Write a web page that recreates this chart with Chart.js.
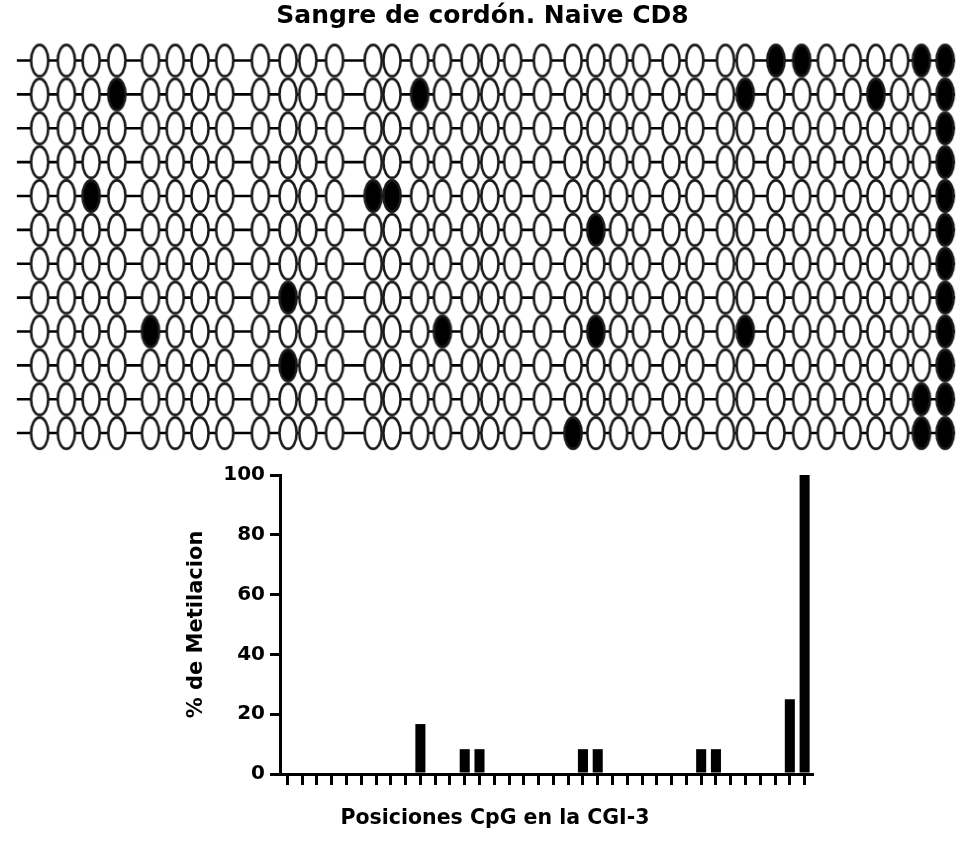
<!DOCTYPE html>
<html>
<head>
<meta charset="utf-8">
<title>Metilacion CGI-3</title>
<script src="https://cdn.jsdelivr.net/npm/chart.js@4.4.0/dist/chart.umd.min.js"></script>
<style>
  body { margin: 0; background: #fff; }
  #wrap { position: relative; width: 965px; height: 858px; }
  #top { position: absolute; left: 0; top: 0; width: 965px; height: 455px; }
  #bottom { position: absolute; left: 0; top: 455px; width: 965px; height: 403px; }
</style>
</head>
<body>
<div id="wrap">
  <div id="top"><canvas id="lollipop"></canvas></div>
  <div id="bottom"><canvas id="barChart"></canvas></div>
</div>
<script>
// relative position of each CpG along the fragment (36 sites)
var cpgPos = [0, 27, 52, 78, 112, 137, 162, 187, 223, 251, 271, 298, 337, 356, 384, 407, 435, 455,
  478, 508, 539, 562, 585, 608, 638, 662, 693, 713, 744, 770, 795, 821, 845, 869, 891, 915];

// methylated CpG numbers (1-based) for each sequenced clone
var metilados = [
  [29, 30, 35, 36],
  [4, 15, 28, 33, 36],
  [36],
  [36],
  [3, 13, 14, 36],
  [22, 36],
  [36],
  [10, 36],
  [5, 16, 22, 28, 36],
  [10, 36],
  [35, 36],
  [21, 35, 36]
];

// % methylation per CpG
var pctMetilacion = [0, 0, 0, 0, 0, 0, 0, 0, 0, 16.7, 0, 0, 8.3, 8.3, 0, 0, 0, 0,
  0, 0, 8.3, 8.3, 0, 0, 0, 0, 0, 0, 8.3, 8.3, 0, 0, 0, 0, 25, 100];

var fuente = "'DejaVu Sans', sans-serif";

// ellipse images used as point style
function makeOval(filled) {
  var c = document.createElement("canvas");
  c.width = 24;
  c.height = 38;
  var g = c.getContext("2d");
  g.beginPath();
  g.ellipse(12, 19, 8.6, 15.6, 0, 0, Math.PI * 2);
  g.fillStyle = filled ? "#000" : "#fff";
  g.fill();
  g.lineWidth = 2.6;
  g.strokeStyle = "#1a1a1a";
  g.stroke();
  return c;
}

function createLollipop() {
  var ctx = document.getElementById("lollipop").getContext("2d");
  var abiertos = [];
  var llenos = [];
  var datasets = [];

  metilados.forEach(function (fila, i) {
    var row = i + 1;
    datasets.push({
      type: "line",
      data: [{ x: -23, y: row }, { x: 925, y: row }],
      borderColor: "#000",
      borderWidth: 2.6,
      pointRadius: 0,
      order: 2
    });
    cpgPos.forEach(function (pos, j) {
      if (fila.indexOf(j + 1) >= 0) {
        llenos.push({ x: pos, y: row });
      } else {
        abiertos.push({ x: pos, y: row });
      }
    });
  });

  datasets.push({
    data: abiertos,
    pointStyle: makeOval(false),
    order: 1,
    clip: false
  });
  datasets.push({
    data: llenos,
    pointStyle: makeOval(true),
    order: 0,
    clip: false
  });

  new Chart(ctx, {
    type: "scatter",
    data: { datasets: datasets },
    options: {
      responsive: true,
      maintainAspectRatio: false,
      animation: false,
      devicePixelRatio: 1,
      events: [],
      layout: { padding: 0 },
      plugins: {
        legend: { display: false },
        tooltip: { enabled: false },
        title: {
          display: true,
          text: "Sangre de cordón. Naive CD8",
          color: "#000",
          font: { family: fuente, size: 25, weight: "bold" },
          padding: { top: 1, bottom: 12.6 }
        }
      },
      scales: {
        x: { type: "linear", min: -35, max: 930, display: false },
        y: { type: "linear", min: 0.5, max: 12.5, reverse: true, display: false }
      }
    }
  });
}

function createBarChart() {
  var ctx = document.getElementById("barChart").getContext("2d");
  var etiquetas = cpgPos.map(function (p, i) { return String(i + 1); });

  new Chart(ctx, {
    type: "bar",
    data: {
      labels: etiquetas,
      datasets: [
        {
          data: pctMetilacion,
          backgroundColor: "#000",
          barPercentage: 0.68,
          categoryPercentage: 1
        }
      ]
    },
    options: {
      responsive: true,
      maintainAspectRatio: false,
      animation: false,
      devicePixelRatio: 1,
      events: [],
      layout: { padding: { top: 20, right: 153, left: 178, bottom: 0 } },
      plugins: {
        legend: { display: false },
        tooltip: { enabled: false },
        // x axis caption, centred on the whole figure
        title: {
          display: true,
          position: "bottom",
          text: "Posiciones CpG en la CGI-3",
          color: "#000",
          font: { family: fuente, size: 20.5, weight: "bold" },
          padding: { top: 10, bottom: 27 }
        }
      },
      scales: {
        x: {
          grid: {
            drawOnChartArea: false,
            drawTicks: true,
            tickLength: 11,
            offset: false,
            color: "#000",
            lineWidth: 3
          },
          border: { display: true, color: "#000", width: 3 },
          ticks: { display: false },
          afterFit: function (s) { s.height = 84 - 10 - 27 - 24.6; }
        },
        y: {
          min: 0,
          max: 100,
          ticks: {
            stepSize: 20,
            color: "#000",
            padding: 5,
            font: { family: fuente, size: 20, weight: "bold" }
          },
          grid: {
            drawOnChartArea: false,
            tickLength: 10,
            color: "#000",
            lineWidth: 3
          },
          border: { display: true, color: "#000", width: 3 },
          title: {
            display: true,
            text: "% de Metilacion",
            color: "#000",
            font: { family: fuente, size: 21, weight: "bold" },
            padding: { top: 6, bottom: 0 }
          },
          afterFit: function (s) { s.width = 102; }
        }
      }
    }
  });
}

createLollipop();
createBarChart();
</script>
</body>
</html>
